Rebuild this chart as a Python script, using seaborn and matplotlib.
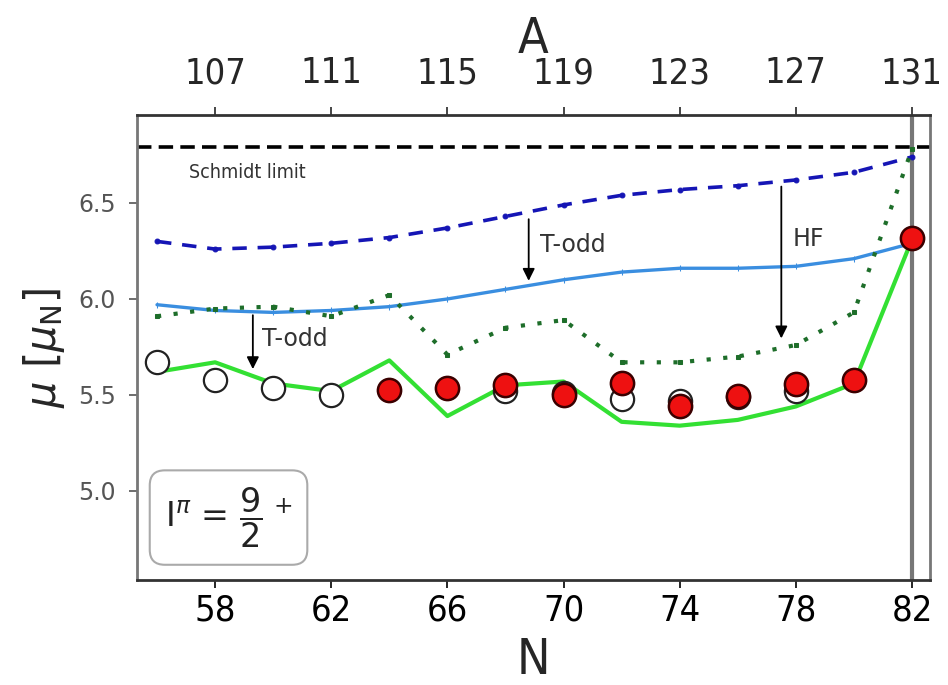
import numpy as np
import pandas as pd
import seaborn as sns
import matplotlib.pyplot as plt

# neutron number N for the calculated curves
N_calc = [56, 58, 60, 62, 64, 66, 68, 70, 72, 74, 76, 78, 80, 82]
mu_dashed_blue = [6.30, 6.26, 6.27, 6.29, 6.32, 6.37, 6.43, 6.49, 6.54, 6.57, 6.59, 6.62, 6.66, 6.74]
mu_solid_blue = [5.97, 5.94, 5.93, 5.94, 5.96, 6.00, 6.05, 6.10, 6.14, 6.16, 6.16, 6.17, 6.21, 6.29]
mu_dotted_green = [5.91, 5.95, 5.96, 5.91, 6.02, 5.71, 5.85, 5.89, 5.67, 5.67, 5.70, 5.76, 5.93, 6.78]
mu_solid_green = [5.62, 5.67, 5.56, 5.52, 5.68, 5.39, 5.55, 5.57, 5.36, 5.34, 5.37, 5.44, 5.56, 6.31]

# open circles (earlier measurements)
N_open = [56, 58, 60, 62, 68, 70, 72, 74, 76, 78]
mu_open = [5.67, 5.58, 5.535, 5.50, 5.52, 5.51, 5.48, 5.47, 5.49, 5.52]

# red points (this work)
N_red = [64, 66, 68, 70, 72, 74, 76, 78, 80, 82]
mu_red = [5.525, 5.535, 5.55, 5.50, 5.56, 5.44, 5.495, 5.555, 5.58, 6.32]
mu_red_err = [0.01, 0.01, 0.03, 0.05, 0.03, 0.05, 0.01, 0.01, 0.01, 0.01]

SCHMIDT_LIMIT = 6.79
x_ticks = [58, 62, 66, 70, 74, 78, 82]
a_ticks = [107, 111, 115, 119, 123, 127, 131]

sns.set_style("ticks")
plt.rcParams['font.family'] = ['DejaVu Sans']

fig = plt.figure(figsize=(9.48, 6.85), dpi=100)
ax = fig.add_axes([0.1445, 0.1533, 0.8365, 0.6787])

calc = pd.DataFrame({'N': N_calc, 'dashed': mu_dashed_blue, 'blue': mu_solid_blue,
                     'dotted': mu_dotted_green, 'green': mu_solid_green})

ax.axhline(SCHMIDT_LIMIT, color='black', ls=(0, (4, 2)), lw=2.6, zorder=1)
ax.axvline(82, color='#777777', lw=3, zorder=1)

sns.lineplot(data=calc, x='N', y='dashed', ax=ax, color='#1515b5', ls=(0, (4, 3)), lw=2.6,
             marker='.', markersize=7, markeredgecolor='#1515b5', zorder=3)
sns.lineplot(data=calc, x='N', y='blue', ax=ax, color='#3a8ee0', lw=2.4,
             marker='|', markersize=5, markeredgecolor='#3a8ee0', zorder=3)
sns.lineplot(data=calc, x='N', y='dotted', ax=ax, color='#1e6e2a', ls=(0, (1, 3)), lw=3,
             marker='s', markersize=3, markeredgecolor='#1e6e2a', zorder=3)
sns.lineplot(data=calc, x='N', y='green', ax=ax, color='#33e033', lw=3, zorder=3)

sns.scatterplot(x=N_open, y=mu_open, ax=ax, s=280, facecolor='white', edgecolor='#222222',
                linewidth=1.6, zorder=4)
ax.errorbar(N_red, mu_red, yerr=mu_red_err, fmt='none', ecolor='black', elinewidth=2, zorder=4)
sns.scatterplot(x=N_red, y=mu_red, ax=ax, s=280, color='#ee1111', edgecolor='#3a0000',
                linewidth=1.8, zorder=5)

# annotations
arrow = dict(arrowstyle='-|>', color='black', lw=1.3, mutation_scale=18)
ax.annotate('', xy=(59.3, 5.62), xytext=(59.3, 5.93), arrowprops=arrow, zorder=6)
ax.text(59.6, 5.79, 'T-odd', fontsize=17, color='#333333', va='center')
ax.annotate('', xy=(68.8, 6.08), xytext=(68.8, 6.43), arrowprops=arrow, zorder=6)
ax.text(69.2, 6.28, 'T-odd', fontsize=17, color='#333333', va='center')
ax.annotate('', xy=(77.5, 5.78), xytext=(77.5, 6.60), arrowprops=arrow, zorder=6)
ax.text(77.9, 6.31, 'HF', fontsize=17, color='#333333', va='center')
ax.text(57.1, 6.66, 'Schmidt limit', fontsize=14, color='#333333', va='center',
        fontstretch='condensed')

ax.text(0.035, 0.065, r'$\mathrm{I}^{\pi}$ = $\dfrac{9}{2}$$^{\,+}$', transform=ax.transAxes,
        fontsize=24, va='bottom', ha='left', color='#222222',
        bbox=dict(boxstyle='round,pad=0.45', facecolor='white', edgecolor='#aaaaaa', lw=1.5))

ax.set_xlim(55.31, 82.62)
ax.set_ylim(4.536, 6.958)
ax.set_xticks(x_ticks)
ax.set_yticks([5.0, 5.5, 6.0, 6.5])
ax.tick_params(axis='x', labelsize=26, direction='out', length=6, width=1.2, colors='black', pad=4)
ax.tick_params(axis='y', labelsize=17, direction='out', length=6, width=1.2,
               colors='#555555', pad=9)
for lbl in ax.get_xticklabels():
    lbl.set_fontstretch('condensed')
ax.set_xlabel('N', fontsize=36, labelpad=6, fontstretch='condensed')
ax.set_ylabel(r'$\mu$ [$\mu_{\mathrm{N}}$]', fontsize=30, labelpad=8)

for side, col in [('top', '#333333'), ('bottom', '#333333'), ('left', '#777777'), ('right', '#777777')]:
    ax.spines[side].set_color(col)
    ax.spines[side].set_linewidth(2)

top = ax.secondary_xaxis('top', functions=(lambda n: n + 49, lambda a: a - 49))
top.set_xticks(a_ticks)
top.tick_params(labelsize=26, direction='out', length=6, width=1.2, pad=12)
for lbl in top.get_xticklabels():
    lbl.set_fontstretch('condensed')
top.spines['top'].set_visible(False)
top.set_xlabel('A', fontsize=36, labelpad=2, fontstretch='condensed')

fig.savefig('out.png', dpi=100)
